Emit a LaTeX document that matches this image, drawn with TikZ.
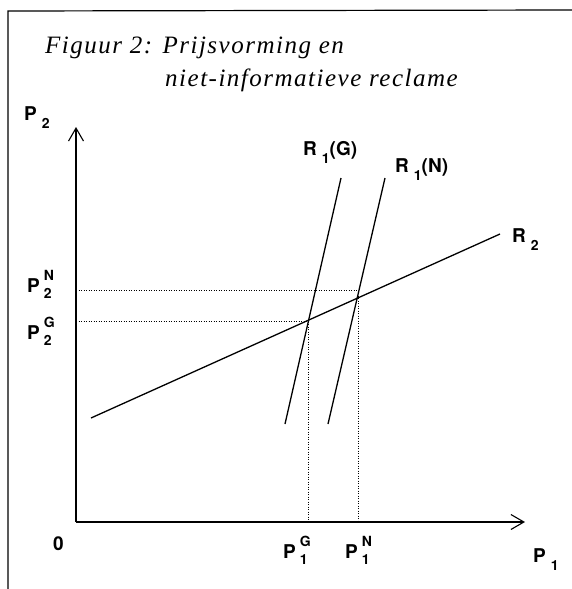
\documentclass[tikz,border=0pt]{standalone}
\usepackage{fontspec}
\setmainfont{Liberation Serif}
\newfontfamily\labfont{TeX Gyre Heros}
\newfontfamily\titlefont{Liberation Serif}[ItalicFeatures={LetterSpace=6},UprightFeatures={LetterSpace=6}]
\usetikzlibrary{arrows.meta}
\newcommand{\ixsupsub}[3]{#1\hspace{4pt}\makebox[0pt][l]{\raisebox{12pt}{\fontsize{14}{14}\selectfont #2}}\raisebox{-6pt}{\fontsize{14}{14}\selectfont #3}}
\newcommand{\ixsub}[2]{#1\hspace{5pt}\raisebox{-8pt}{\fontsize{14}{14}\selectfont #2}}
\begin{document}
\begin{tikzpicture}[x=1pt,y=-1pt,
  framestyle/.style={line width=1.2pt},
  axisline/.style={line width=1.3pt,-{Straight Barb[length=13pt,width=15pt,line width=1.1pt]}},
  curveline/.style={line width=1.3pt},
  guideline/.style={line width=0.8pt,dash pattern=on 0.8pt off 1.7pt},
  lab/.style={font=\labfont\bfseries\fontsize{19}{19}\selectfont,inner sep=0pt,anchor=base west},
  titletext/.style={font=\titlefont\itshape\fontsize{25}{25}\selectfont,inner sep=0pt,anchor=base west}]
\useasboundingbox (0,0) rectangle (572,589);
% frame
\coordinate (fTL) at (8,11);
\coordinate (fBL) at (8,589);
\coordinate (fTR) at (572,10);
\draw[framestyle] (fBL) -- (fTL) -- (fTR);
% title
\node[titletext] (t1) at (45,53) {Figuur 2: Prijsvorming en};
\node[titletext] (t2) at (165,86) {niet-informatieve reclame};
% axes
\coordinate (O) at (76,522);
\coordinate (Ytop) at (76,127);
\coordinate (Xend) at (525,522);
\draw[axisline] (O) -- (Ytop);
\draw[axisline] (O) -- (Xend);
% curves
\coordinate (r2a) at (91,418);
\coordinate (r2b) at (500,234);
\coordinate (gA) at (285,424);
\coordinate (gB) at (341,178);
\coordinate (nA) at (328,424);
\coordinate (nB) at (385,178);
\draw[curveline] (r2a) -- (r2b);
\draw[curveline] (gA) -- (gB);
\draw[curveline] (nA) -- (nB);
% equilibria guides
\coordinate (EG) at (308,321);
\coordinate (EN) at (358,290);
\draw[guideline] (O |- EG) -- (EG) -- (EG |- O);
\draw[guideline] (O |- EN) -- (EN) -- (EN |- O);
% labels
\node[lab] (lP2) at (24,120) {\ixsub{P}{2}};
\node[lab] (lP2N) at (27,292) {\ixsupsub{P}{N}{2}};
\node[lab] (lP2G) at (27,339) {\ixsupsub{P}{G}{2}};
\node[lab] (l0) at (53,550) {0};
\node[lab] (lP1G) at (283,558) {\ixsupsub{P}{G}{1}};
\node[lab] (lP1N) at (345,558) {\ixsupsub{P}{N}{1}};
\node[lab] (lP1) at (533,562) {\ixsub{P}{1}};
\node[lab] (lR1G) at (303,155) {\ixsub{R}{1}(G)};
\node[lab] (lR1N) at (395,172) {\ixsub{R}{1}(N)};
\node[lab] (lR2) at (512,242) {\ixsub{R}{2}};
\end{tikzpicture}
\end{document}
